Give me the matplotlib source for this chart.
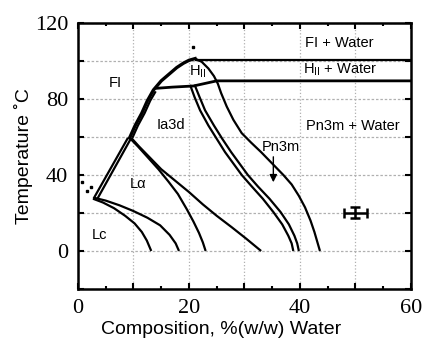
import numpy as np
import matplotlib
matplotlib.use('Agg')
import matplotlib.pyplot as plt
from matplotlib.ticker import MultipleLocator, FuncFormatter

# Limites des phases (composition %w/w eau, temperature C)
lc_bas_x = [2.7, 4.5, 6.5, 8.5, 10.2, 11.5, 12.4, 13.2]
lc_bas_y = [27.5, 25.5, 22.5, 18.5, 14.5, 10.0, 5.5, 0.0]
lc_haut_x = [2.9, 5.0, 7.5, 10.0, 12.5, 14.8, 16.5, 17.6, 18.2]
lc_haut_y = [28.0, 26.5, 24.0, 21.0, 17.5, 13.5, 8.5, 4.0, 0.0]

ab1_x = [2.8, 9.0]
ab1_y = [27.5, 59.5]
ab2_x = [3.5, 9.6]
ab2_y = [27.5, 59.5]

la1_x = [9.3, 10.8, 12.5, 14.5, 16.3, 18.0, 19.6, 20.8, 21.8, 22.5, 23.0]
la1_y = [59.5, 55.0, 49.5, 43.0, 36.5, 30.0, 22.0, 15.5, 9.5, 4.5, 0.0]
la2_x = [9.6, 11.0, 13.0, 15.0, 17.5, 20.0, 22.5, 25.0, 27.7, 30.3, 33.0]
la2_y = [59.5, 55.0, 49.0, 43.0, 37.0, 31.0, 24.5, 18.5, 12.5, 6.5, 0.0]

fl_x = [9.3, 10.3, 11.5, 12.5, 13.6, 15.0, 16.6, 17.8, 19.0, 20.0, 21.1]
fl_y = [59.5, 66.0, 72.5, 79.0, 84.7, 89.5, 93.5, 96.5, 98.8, 100.3, 101.2]
fl2_x = [9.8, 10.8, 12.0, 13.0, 14.0]
fl2_y = [59.5, 66.0, 72.5, 79.0, 84.0]

haut_x = [21.1, 60.0]
haut_y = [100.6, 100.6]
hii_x = [14.2, 17.0, 20.8, 25.0, 60.0]
hii_y = [85.6, 86.2, 86.8, 89.5, 89.5]

pw_x = [21.1, 22.3, 23.5, 24.5, 25.2, 25.8, 26.8, 28.0, 29.5, 31.2, 33.0, 35.0, 37.0,
        38.5, 39.8, 40.9, 41.9, 42.6, 43.1, 43.6]
pw_y = [101.2, 99.5, 96.0, 92.0, 88.0, 83.0, 76.0, 69.0, 62.0, 57.0, 52.0, 46.0, 40.0,
        35.0, 29.0, 23.0, 16.0, 10.0, 5.0, 0.0]

ip1_x = [20.2, 21.0, 22.0, 23.5, 25.0, 26.5, 28.0, 29.5, 31.3, 33.3, 35.2, 36.8, 37.9, 38.5, 38.8]
ip1_y = [87.4, 81.0, 74.0, 66.0, 59.0, 52.0, 46.0, 40.0, 34.0, 27.5, 20.5, 14.0, 8.0, 4.0, 0.0]
ip2_x = [21.0, 21.9, 22.9, 24.5, 26.0, 27.6, 29.1, 30.6, 32.4, 34.5, 36.5, 38.0, 39.0, 39.5, 39.8]
ip2_y = [87.5, 81.0, 74.0, 66.0, 59.0, 52.0, 46.0, 40.0, 34.0, 27.5, 20.5, 14.0, 8.0, 4.0, 0.0]

points_x = [20.8, 0.7, 1.7, 2.3]
points_y = [107.5, 36.5, 31.7, 33.8]

err_x, err_y = 50.0, 20.0
err_dx, err_dy = 2.1, 2.9

sans = 'Liberation Sans'
serif = 'Liberation Serif'

fig = plt.figure(figsize=(4.25, 3.39), dpi=100)
ax = fig.add_axes([0.1835, 0.1475, 0.7835, 0.785])

lw = 1.6
for xs, ys in [(lc_bas_x, lc_bas_y), (lc_haut_x, lc_haut_y), (ab1_x, ab1_y), (ab2_x, ab2_y),
               (la1_x, la1_y), (la2_x, la2_y), (fl2_x, fl2_y), (haut_x, haut_y),
               (pw_x, pw_y), (ip1_x, ip1_y), (ip2_x, ip2_y)]:
    ax.plot(xs, ys, 'k-', lw=lw, solid_capstyle='butt', solid_joinstyle='round')
ax.plot(fl_x, fl_y, 'k-', lw=2.4, solid_joinstyle='round')
ax.plot(hii_x, hii_y, 'k-', lw=2.0)

ax.plot(points_x, points_y, 'ks', ms=1.6)
ax.errorbar(err_x, err_y, xerr=err_dx, yerr=err_dy, fmt='none', ecolor='k',
            elinewidth=1.8, capsize=3.5, capthick=1.8)

# Etiquettes des phases
fs = 10.5
ax.text(6.8, 88.4, 'FI', fontsize=fs, family=sans, ha='center', va='center')
ax.text(21.6, 94.4, r'H$_{\mathregular{II}}$', fontsize=fs, family=sans, ha='center', va='center')
ax.text(16.7, 66.3, 'Ia3d', fontsize=fs, family=sans, ha='center', va='center')
ax.text(10.8, 35.1, 'L\u03b1', fontsize=fs, family=sans, ha='center', va='center')
ax.text(3.9, 8.4, 'Lc', fontsize=fs, family=sans, ha='center', va='center')
ax.text(40.9, 109.6, 'FI + Water', fontsize=fs, family=sans, ha='left', va='center')
ax.text(40.6, 95.3, r'H$_{\mathregular{II}}$ + Water', fontsize=fs, family=sans, ha='left', va='center')
ax.text(41.1, 65.8, 'Pn3m + Water', fontsize=fs, family=sans, ha='left', va='center')
ax.text(36.5, 54.5, 'Pn3m', fontsize=fs, family=sans, ha='center', va='center')
ax.annotate('', xy=(35.2, 34.7), xytext=(35.2, 51.0),
            arrowprops=dict(arrowstyle='-|>', color='k', lw=1.0, mutation_scale=11))

ax.set_xlim(0, 60)
ax.set_ylim(-20, 120)
ax.xaxis.set_major_locator(MultipleLocator(10))
ax.xaxis.set_minor_locator(MultipleLocator(5))
ax.yaxis.set_major_locator(MultipleLocator(20))
ax.xaxis.set_major_formatter(FuncFormatter(lambda v, p: '%d' % v if v % 20 == 0 else ''))
ax.yaxis.set_major_formatter(FuncFormatter(lambda v, p: '%d' % v if v % 40 == 0 else ''))
ax.tick_params(which='both', direction='in', top=True, right=True, width=1.5)
ax.tick_params(which='major', length=4, pad=7)
ax.tick_params(which='minor', length=2)
for lab in ax.get_xticklabels() + ax.get_yticklabels():
    lab.set_family(serif)
    lab.set_fontsize(16)
for s in ax.spines.values():
    s.set_linewidth(1.8)

ax.grid(True, axis='x', color='#b0b0b0', linestyle=':', lw=0.9)
ax.grid(True, axis='y', color='#b0b0b0', linestyle=(0, (2, 1.5)), lw=0.9)
ax.set_axisbelow(True)

ax.set_xlabel('Composition, %(w/w) Water', fontsize=14, family=sans)
ax.xaxis.set_label_coords(0.431, -0.12)
ax.set_ylabel('Temperature \u02daC', fontsize=14, family=sans)
ax.yaxis.set_label_coords(-0.135, 0.5)

plt.savefig('out.png', dpi=100)
